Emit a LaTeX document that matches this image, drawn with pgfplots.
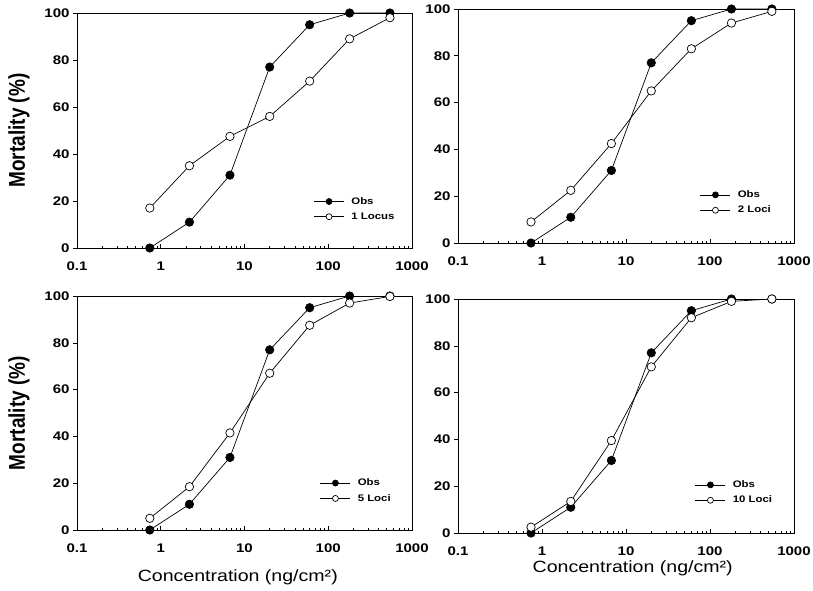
\documentclass[border=0pt]{standalone}
\usepackage{fontspec}
\setmainfont[FakeStretch=1.2]{Liberation Sans}
\newfontfamily\plainsans{Liberation Sans}
\usepackage{graphicx}
\usepackage{pgfplots}
\pgfplotsset{compat=1.18}

% observed mortality and model predictions (x = concentration, ng/cm2)
\pgfplotstableread{
x     obs  one  two  five  ten
0.74  0    17   9    5     2.5
2.2   11   35   22.5 18.5  13.5
6.7   31   47.5 42.5 41.5  39.5
20    77   56   65   67    71
60    95   71   83   87.5  92
180   100  89   94   97    99
545   100  98   99   99.8  100
}\mort

\pgfplotsset{
  every axis/.append style={
    scale only axis, width=335pt, height=234pt,
    xmode=log, xmin=0.1, xmax=1000, ymin=0, ymax=100,
    xtick={0.1,1,10,100,1000}, xticklabels={0.1,1,10,100,1000},
    ytick={0,20,40,60,80,100},
    xtick pos=bottom, ytick pos=left,
    xtick align=inside, ytick align=outside,
    major tick length=4pt, minor tick length=2.5pt,
    axis line style={line width=0.9pt},
    every tick/.style={black, line width=0.6pt},
    /pgf/number format/assume math mode=true,
    tick label style={font=\bfseries\fontsize{12.5}{13}\selectfont},
    xticklabel style={yshift=-10pt},
    xlabel style={at={(axis description cs:0.48,0)}, anchor=center, yshift=-47pt,
      font=\fontsize{16.3}{18}\selectfont},
    ylabel style={at={(axis description cs:0,0.5)}, anchor=center, yshift=58pt,
      font=\plainsans\bfseries\fontsize{19}{20}\selectfont},
    legend style={draw=none, fill=none, anchor=north west, row sep=3pt,
      inner sep=0pt, column sep=5pt,
      font=\bfseries\fontsize{9.5}{11}\selectfont, cells={anchor=west}},
  },
  every axis plot/.append style={black, line width=0.7pt, mark=*, mark size=4.2pt},
  longleg/.style={legend image code/.code={\draw[mark repeat=2, mark phase=2, ##1, mark size=3pt]
      plot coordinates {(0pt,0pt) (15pt,0pt) (30pt,0pt)};}},
}
\tikzset{
  obsmk/.style={mark options={fill=black}},
  modmk/.style={mark options={fill=white}},
}

\begin{document}
\begin{tikzpicture}
\useasboundingbox (0pt,0pt) rectangle (813pt,-591pt);

\begin{axis}[at={(77pt,-248pt)}, anchor=south west, height=235pt,
  ylabel={\scalebox{1}[1.2]{Mortality (\%)}},
  legend style={at={(axis description cs:0.706,0.225)}}]
\addplot[obsmk, longleg] table[x=x, y=obs] {\mort};
\addplot[modmk, longleg] table[x=x, y=one] {\mort};
\legend{Obs, 1 Locus}
\end{axis}

\begin{axis}[at={(458pt,-243pt)}, anchor=south west, width=336pt,
  legend style={at={(axis description cs:0.72,0.233)}}]
\addplot[obsmk, longleg] table[x=x, y=obs] {\mort};
\addplot[modmk, longleg] table[x=x, y=two] {\mort};
\legend{Obs, 2 Loci}
\end{axis}

\begin{axis}[at={(77pt,-530pt)}, anchor=south west,
  ylabel={\scalebox{1}[1.2]{Mortality (\%)}},
  xlabel={Concentration (ng/cm²)},
  legend style={at={(axis description cs:0.725,0.228)}}]
\addplot[obsmk, longleg] table[x=x, y=obs] {\mort};
\addplot[modmk, longleg] table[x=x, y=five] {\mort};
\legend{Obs, 5 Loci}
\end{axis}

\begin{axis}[at={(458pt,-533pt)}, anchor=south west, width=336pt,
  xlabel={Concentration (ng/cm²)},
  xlabel style={at={(axis description cs:0.52,0)}, yshift=12pt},
  legend style={at={(axis description cs:0.705,0.233)}}]
\addplot[obsmk, longleg] table[x=x, y=obs] {\mort};
\addplot[modmk, longleg] table[x=x, y=ten] {\mort};
\legend{Obs, 10 Loci}
\end{axis}
\end{tikzpicture}
\end{document}
